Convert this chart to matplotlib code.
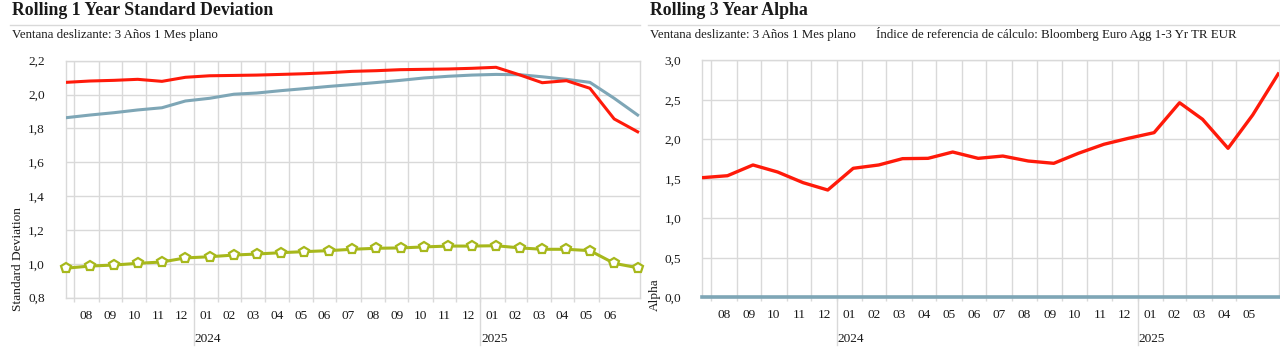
import matplotlib
matplotlib.use('Agg')
import matplotlib.pyplot as plt
import matplotlib.transforms as mtransforms
from matplotlib.lines import Line2D
from matplotlib.ticker import FuncFormatter
import numpy as np
import pandas as pd

plt.rcParams['font.family'] = ['Liberation Serif', 'DejaVu Serif']

W, H = 1280, 356

# one value per month, plotted around the 21st of each month
std_months = pd.period_range('2023-07', '2025-07', freq='M')
alpha_months = pd.period_range('2023-07', '2025-06', freq='M')

std_fund = [2.072, 2.080, 2.084, 2.090, 2.078, 2.102, 2.111, 2.113, 2.115, 2.119,
            2.123, 2.129, 2.137, 2.141, 2.147, 2.149, 2.151, 2.155, 2.161, 2.115,
            2.070, 2.082, 2.037, 1.856, 1.780]
std_benchmark = [1.863, 1.879, 1.893, 1.909, 1.922, 1.962, 1.978, 2.002, 2.009, 2.023,
                 2.035, 2.048, 2.059, 2.071, 2.084, 2.098, 2.108, 2.115, 2.119, 2.117,
                 2.105, 2.090, 2.072, 1.978, 1.879]
std_category = [0.974, 0.987, 0.993, 1.003, 1.011, 1.035, 1.042, 1.052, 1.058, 1.066,
                1.072, 1.078, 1.086, 1.092, 1.094, 1.100, 1.105, 1.105, 1.107, 1.094,
                1.086, 1.086, 1.078, 1.003, 0.977]

alpha_fund = [1.514, 1.539, 1.675, 1.586, 1.451, 1.358, 1.633, 1.675, 1.755, 1.759,
              1.839, 1.759, 1.788, 1.725, 1.696, 1.823, 1.937, 2.013, 2.084, 2.463,
              2.253, 1.886, 2.308, 2.827]

std_ticks = [0.8, 1.0, 1.2, 1.4, 1.6, 1.8, 2.0, 2.2]
alpha_ticks = [0.0, 0.5, 1.0, 1.5, 2.0, 2.5, 3.0]

RED = '#FF1A0A'
BLUE = '#7EA6B6'
GREEN = '#A7B81C'
GRID = '#D9D9D9'
TXT = '#1a1a1a'
FS = 9.6


def point_dates(months):
    return months.to_timestamp() + pd.Timedelta(days=20)


def comma(v, _):
    return f'{v:.1f}'.replace('.', ',')


def month_axis(ax, months, dates, pad_days):
    inner = months[1:-1]
    starts = inner.to_timestamp()
    mids = starts + (inner.to_timestamp(how='end') - starts) / 2
    ax.set_xlim(dates[0], dates[-1] + pd.Timedelta(days=pad_days))
    ax.set_xticks(starts)
    ax.set_xticklabels([])
    ax.set_xticks(mids, minor=True)
    ax.set_xticklabels([m.strftime('%m') for m in inner], minor=True)
    ax.tick_params(axis='x', which='major', length=3, color=GRID, width=1)
    ax.tick_params(axis='x', which='minor', length=0, pad=8.5, labelsize=FS, labelcolor=TXT)
    ax.grid(axis='x', which='major', color=GRID, lw=1)
    trans = mtransforms.blended_transform_factory(ax.transData, ax.transAxes)
    for s in starts:
        if s.month == 1:
            ax.add_line(Line2D([s, s], [0, -0.2], transform=trans, color=GRID,
                               lw=1, clip_on=False))
            ax.text(s + pd.Timedelta(days=1), -0.175, str(s.year), transform=trans,
                    ha='left', va='center', fontsize=FS, color=TXT)


def y_axis(ax, ticks):
    ax.set_ylim(ticks[0], ticks[-1])
    ax.set_yticks(ticks)
    ax.yaxis.set_major_formatter(FuncFormatter(comma))
    ax.tick_params(axis='y', length=0, pad=15, labelsize=FS, labelcolor=TXT)
    ax.grid(axis='y', color=GRID, lw=1)
    ax.set_axisbelow(True)
    for sp in ax.spines.values():
        sp.set_color(GRID)
        sp.set_linewidth(1)


fig = plt.figure(figsize=(W / 100, H / 100), dpi=100)

# ---- Rolling 1 Year Standard Deviation
ax1 = fig.add_axes([65.7 / W, 1 - 297.7 / H, (640 - 65.7) / W, 237 / H])
d1 = point_dates(std_months)
ax1.plot(d1, std_benchmark, color=BLUE, lw=2.2, zorder=3)
ax1.plot(d1, std_fund, color=RED, lw=2.2, zorder=4)
ax1.plot(d1, std_category, color=GREEN, lw=2.2, zorder=5, marker='p', markersize=7.5,
         markerfacecolor='white', markeredgecolor=GREEN, markeredgewidth=1.6, clip_on=False)
y_axis(ax1, std_ticks)
month_axis(ax1, std_months, d1, 3)

# ---- Rolling 3 Year Alpha
ax2 = fig.add_axes([702 / W, 1 - 297.3 / H, (1279 - 702) / W, 237 / H])
d2 = point_dates(alpha_months)
ax2.plot(d2, alpha_fund, color=RED, lw=2.4, zorder=4)
ax2.axhline(0, color=BLUE, lw=2.6, zorder=3, clip_on=False)
y_axis(ax2, alpha_ticks)
month_axis(ax2, alpha_months, d2, 1)

# ---- headers
def fx(x):
    return x / W


def fy(y):
    return 1 - y / H


fig.text(fx(12), fy(15), 'Rolling 1 Year Standard Deviation', fontsize=12.8,
         fontweight='bold', color=TXT, va='baseline')
fig.text(fx(650), fy(15), 'Rolling 3 Year Alpha', fontsize=12.8,
         fontweight='bold', color=TXT, va='baseline')
fig.add_artist(Line2D([fx(10), fx(640)], [fy(25), fy(25)], color=GRID, lw=1))
fig.add_artist(Line2D([fx(648), fx(1280)], [fy(25), fy(25)], color=GRID, lw=1))
fig.text(fx(12), fy(38), 'Ventana deslizante: 3 Años 1 Mes plano', fontsize=9.3,
         color=TXT, va='baseline')
fig.text(fx(650), fy(38), 'Ventana deslizante: 3 Años 1 Mes plano', fontsize=9.3,
         color=TXT, va='baseline')
fig.text(fx(876), fy(38), 'Índice de referencia de cálculo: Bloomberg Euro Agg 1-3 Yr TR EUR',
         fontsize=9.3, color=TXT, va='baseline')

fig.text(fx(18), fy(310.7), 'Standard Deviation', rotation=90, fontsize=FS,
         color=TXT, ha='center', va='bottom')
fig.text(fx(655), fy(310.7), 'Alpha', rotation=90, fontsize=FS,
         color=TXT, ha='center', va='bottom')

fig.savefig('out.png', dpi=100)
